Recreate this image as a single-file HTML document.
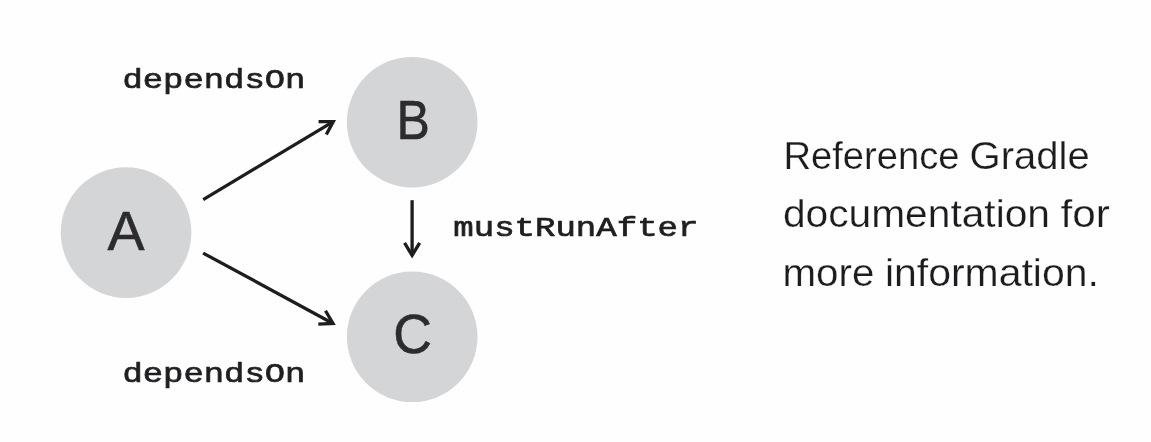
<!DOCTYPE html>
<html lang="en">
<head>
<meta charset="utf-8">
<title>Gradle task ordering</title>
<style>
html,body{margin:0;padding:0;background:#fefefe;}
body{width:1151px;height:442px;overflow:hidden;position:relative;}
svg{position:absolute;left:0;top:0;display:block;will-change:transform;}
text{white-space:pre;}
.node{font-family:"Liberation Sans",sans-serif;font-size:55.5px;fill:#2c2c2e;stroke:#2c2c2e;stroke-width:0.6px;text-anchor:middle;}
.mono{font-family:"Liberation Mono",monospace;font-size:28px;fill:#1f1f21;stroke:#1f1f21;stroke-width:0.7px;}
.note{font-family:"Liberation Sans",sans-serif;font-size:39px;fill:#1c1c1e;stroke:#fefefe;stroke-width:0.25px;}
</style>
</head>
<body>
<svg width="1151" height="442" viewBox="0 0 1151 442">
  <rect width="1151" height="442" fill="#fefefe"/>
  <circle cx="126.05" cy="232.6" r="65.3" fill="#d4d5d7"/>
  <circle cx="412.2" cy="122.2" r="65.3" fill="#d4d5d7"/>
  <circle cx="412.2" cy="336.8" r="65.3" fill="#d4d5d7"/>
  <text class="node" x="125.9" y="249.6">A</text>
  <text class="node" transform="translate(413.2 138.8) scale(0.9 1)" x="0" y="0">B</text>
  <text class="node" transform="translate(412.7 353.4) scale(0.965 1)" x="0" y="0">C</text>
  <g fill="none" stroke="#1d1d1f" stroke-width="3.3" stroke-linecap="butt" stroke-linejoin="miter">
    <path d="M203.20 199.55 L333.26 121.55"/>
    <path d="M318.56 121.53 L333.26 121.55 L326.34 134.52"/>
    <path d="M203.10 253.10 L332.99 323.43"/>
    <path d="M325.51 310.77 L332.99 323.43 L318.30 324.08"/>
    <path d="M412.10 200.20 L412.10 255.40"/>
    <path d="M419.67 242.80 L412.10 255.40 L404.53 242.80"/>
  </g>
  <text class="mono"><tspan x="122.41" y="88.00" textLength="183.04" lengthAdjust="spacingAndGlyphs">dependsOn</tspan></text>
  <text class="mono"><tspan x="122.41" y="382.00" textLength="183.04" lengthAdjust="spacingAndGlyphs">dependsOn</tspan></text>
  <text class="mono"><tspan x="453.30" y="236.00" textLength="245.13" lengthAdjust="spacingAndGlyphs">mustRunAfter</tspan></text>
  <text class="note"><tspan x="783.39" y="169.00" textLength="176.07" lengthAdjust="spacingAndGlyphs">Reference</tspan> <tspan x="969.54" y="169.00" textLength="120.19" lengthAdjust="spacingAndGlyphs">Gradle</tspan></text>
  <text class="note"><tspan x="782.90" y="227.00" textLength="267.12" lengthAdjust="spacingAndGlyphs">documentation</tspan> <tspan x="1060.62" y="227.00" textLength="49.30" lengthAdjust="spacingAndGlyphs">for</tspan></text>
  <text class="note"><tspan x="782.48" y="286.00" textLength="91.84" lengthAdjust="spacingAndGlyphs">more</tspan> <tspan x="884.93" y="286.00" textLength="213.98" lengthAdjust="spacingAndGlyphs">information.</tspan></text>
</svg>
</body>
</html>
